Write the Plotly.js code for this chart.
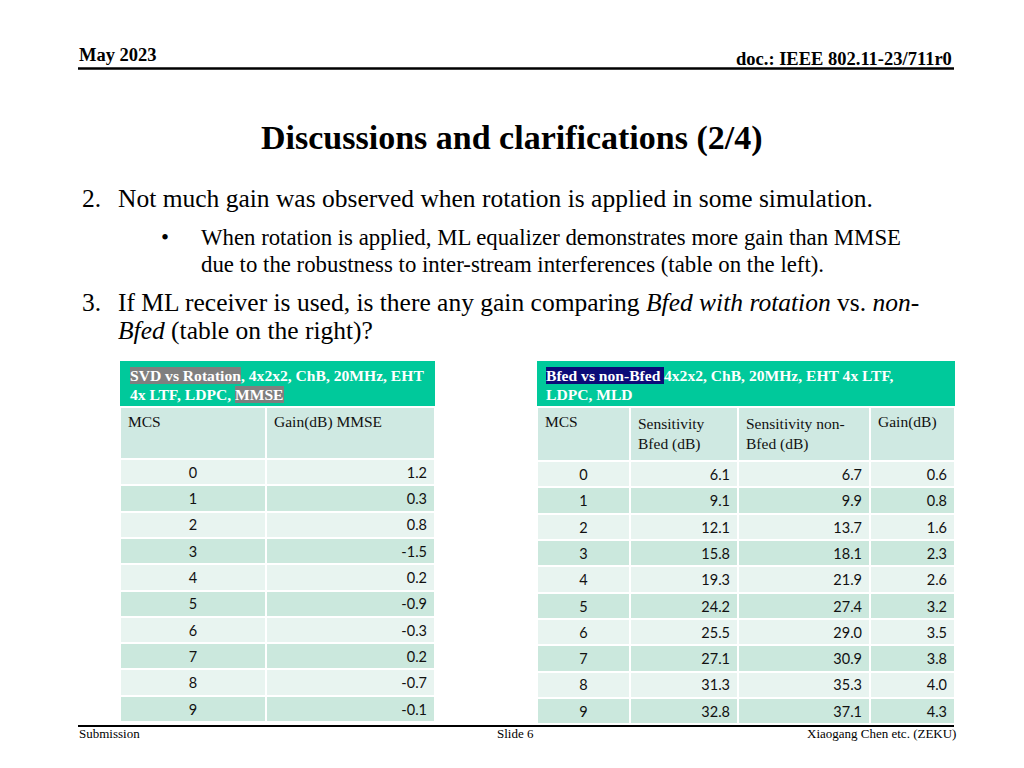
<!DOCTYPE html>
<html><head><meta charset="utf-8">
<script src="https://cdn.plot.ly/plotly-3.0.1.min.js"></script>
<style>html,body{margin:0;padding:0;background:#fff}</style>
</head><body><div id="chart" style="width:1024px;height:768px"></div>
<script>
// ---- data ----
const mcs = [0,1,2,3,4,5,6,7,8,9];
const gainMMSE = [1.2,0.3,0.8,-1.5,0.2,-0.9,-0.3,0.2,-0.7,-0.1];
const sensBfed = [6.1,9.1,12.1,15.8,19.3,24.2,25.5,27.1,31.3,32.8];
const sensNonBfed = [6.7,9.9,13.7,18.1,21.9,27.4,29.0,30.9,35.3,37.1];
const gainBfed = [0.6,0.8,1.6,2.3,2.6,3.2,3.5,3.8,4.0,4.3];
const leftHeaders = ["MCS","Gain(dB) MMSE"];
const rightHeaders = ["MCS","Sensitivity<br>Bfed (dB)","Sensitivity non-<br>Bfed (dB)","Gain(dB)"];

// ---- layout helpers ----
const W=1024,H=768;
const px = x => x/W, py = y => 1 - y/H;
const SERIF = "Liberation Serif";
const TEAL = "#00c99b", HEAD = "#cfe9e2", LIGHT = "#e8f4f0", DARK = "#cbe8dd";
const rowColors = mcs.map((m,i)=> i%2 ? DARK : LIGHT);

const ctx = document.createElement('canvas').getContext('2d');
function textW(s, fs, bold){ ctx.font = (bold?'bold ':'') + fs + 'px "' + SERIF + '"'; return ctx.measureText(s).width; }

const annotations = [];
const shapes = [];
function ann(text, x, y, opts){
  annotations.push(Object.assign({text, x:px(x), y:py(y), xref:'paper', yref:'paper', showarrow:false,
    xanchor:'left', yanchor:'middle', borderpad:0, borderwidth:0,
    font:{family:SERIF, size:20, color:'#000'}}, opts||{}));
}
function segLine(parts, x0, y, fs){
  let x = x0;
  parts.forEach(p=>{
    const w = textW(p.t, fs, true);
    ann('<b>'+p.t+'</b>', x, y, {font:{family:SERIF,size:fs,color:'#fff'}, bgcolor:p.bg||'rgba(0,0,0,0)'});
    x += w + (p.gap||0);
  });
}
const F = (s)=>({family:SERIF,size:s,color:'#000'});

// slide header/footer
ann('<b>May 2023</b>', 79, 55, {font:F(18.5)});
ann('<b>doc.: IEEE 802.11-23/711r0</b>', 952, 59, {xanchor:'right', font:F(18.5)});
shapes.push({type:'line', xref:'paper', yref:'paper', x0:px(78), x1:px(954), y0:py(68.5), y1:py(68.5), line:{color:'#000', width:2.5}});
shapes.push({type:'line', xref:'paper', yref:'paper', x0:px(78), x1:px(954), y0:py(726), y1:py(726), line:{color:'#000', width:2}});
ann('Submission', 79, 733, {font:F(13)});
ann('Slide 6', 515, 733, {xanchor:'center', font:F(13)});
ann('Xiaogang Chen etc. (ZEKU)', 956, 733, {xanchor:'right', font:F(13)});

// title
ann('<b>Discussions and clarifications (2/4)</b>', 512, 138, {xanchor:'center', font:F(34)});

// body text
const BF = 25.5, SF = 22.8;
ann('2.', 82, 199, {font:F(BF)});
ann('Not much gain was observed when rotation is applied in some simulation.', 118, 199, {font:F(BF)});
ann('•', 161, 237, {font:F(SF)});
ann('When rotation is applied, ML equalizer demonstrates more gain than MMSE', 201, 237, {font:F(SF)});
ann('due to the robustness to inter-stream interferences (table on the left).', 201, 265, {font:F(SF)});
ann('3.', 82, 302, {font:F(BF)});
ann('If ML receiver is used, is there any gain comparing <i>Bfed with rotation</i> vs. <i>non-</i>', 118, 302, {font:F(BF)});
ann('<i>Bfed</i> (table on the right)?', 118, 330, {font:F(BF)});

// table title bars
shapes.push({type:'rect', xref:'paper', yref:'paper', x0:px(120), x1:px(435), y0:py(406), y1:py(361), fillcolor:TEAL, line:{width:0}});
shapes.push({type:'rect', xref:'paper', yref:'paper', x0:px(537), x1:px(955), y0:py(406), y1:py(361), fillcolor:TEAL, line:{width:0}});
const TFS = 15.6;
segLine([{t:'SVD vs Rotation', bg:'#7f7f7f'},{t:', 4x2x2, ChB, 20MHz, EHT'}], 130, 376, TFS);
segLine([{t:'4x LTF, LDPC,', gap:textW(' ',TFS,true)},{t:'MMSE', bg:'#7f7f7f'}], 130, 394, TFS);
segLine([{t:'Bfed vs non-Bfed ', bg:'#0b0b78'},{t:'4x2x2, ChB, 20MHz, EHT 4x LTF,'}], 546, 376, TFS);
segLine([{t:'LDPC, MLD'}], 546, 394, TFS);

const fmt1 = arr => arr.map(v=>v.toFixed(1));
const bodyFont = {family:'Lato', size:14.5, color:'#111'};
const headFont = {family:SERIF, size:15.5, color:'#111'};

const leftTable = {
  type:'table',
  domain:{x:[px(120),px(435)], y:[py(723),py(407)]},
  columnwidth:[146,169],
  header:{values:leftHeaders, align:'left', height:52, font:headFont, fill:{color:HEAD}, line:{color:'#fff', width:2}},
  cells:{values:[mcs.map(String), fmt1(gainMMSE)], align:['center','right'], height:26.3, font:bodyFont,
    fill:{color:[rowColors,rowColors]}, line:{color:'#fff', width:2}}
};
const rightTable = {
  type:'table',
  domain:{x:[px(537),px(955)], y:[py(723),py(407)]},
  columnwidth:[93,108,132,85],
  header:{values:rightHeaders, align:'left', height:52, font:headFont, fill:{color:HEAD}, line:{color:'#fff', width:2}},
  cells:{values:[mcs.map(String), fmt1(sensBfed), fmt1(sensNonBfed), fmt1(gainBfed)], align:['center','right','right','right'],
    height:26.3, font:bodyFont, fill:{color:[rowColors,rowColors,rowColors,rowColors]}, line:{color:'#fff', width:2}}
};

Plotly.newPlot('chart', [leftTable, rightTable], {
  width:W, height:H, margin:{l:0,r:0,t:0,b:0}, paper_bgcolor:'#fff', plot_bgcolor:'#fff',
  annotations, shapes, showlegend:false
}, {displayModeBar:false, staticPlot:true});
</script></body></html>
